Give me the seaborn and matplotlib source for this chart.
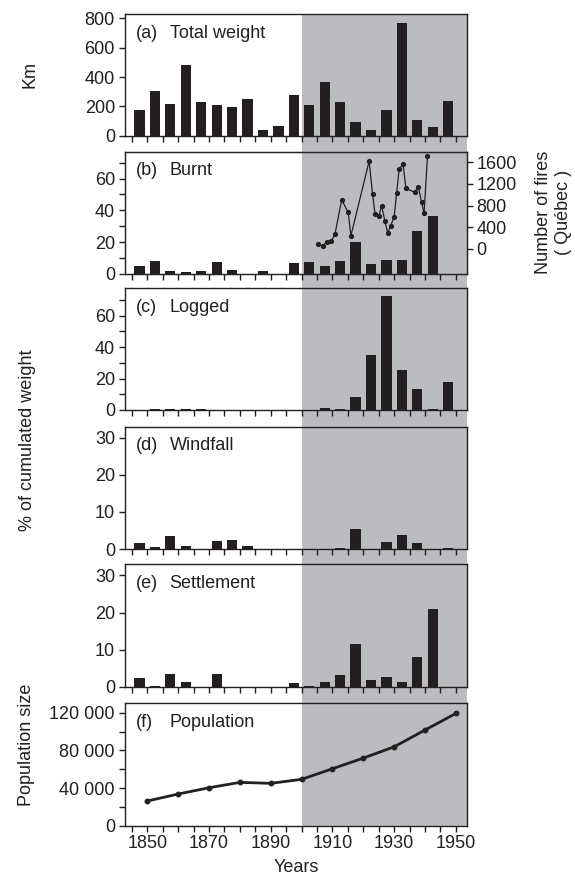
import matplotlib
matplotlib.use("Agg")
import matplotlib.pyplot as plt
import matplotlib.ticker as mticker
import matplotlib.transforms as mtransforms
from matplotlib.patches import Rectangle
import seaborn as sns
import numpy as np
import pandas as pd

# bar mid-points (5-year classes)
years = [1847.5 + 5 * i for i in range(21)]

total_weight = [176, 308, 217, 484, 231, 210, 199, 253, 39, 68, 279,
                210, 363, 231, 94, 39, 176, 770, 107, 57, 240]
burnt = [4.8, 8.0, 1.7, 1.1, 1.7, 7.4, 2.5, 0, 1.5, 0, 7.0,
         7.3, 4.8, 7.8, 20.0, 5.9, 8.4, 8.4, 27.0, 36.5, 0]
logged = [0, 0.8, 0.6, 0.4, 0.4, 0, 0, 0, 0, 0, 0,
          0.2, 1.0, 0.6, 8.1, 35.2, 72.8, 25.3, 13.6, 0.5, 17.6]
windfall = [1.6, 0.5, 3.6, 0.7, 0, 2.2, 2.4, 0.9, 0, 0, 0,
            0, 0, 0.4, 5.4, 0, 2.0, 3.8, 1.6, 0, 0.3]
settlement = [2.3, 0.2, 3.4, 1.3, 0, 3.4, 0, 0, 0, 0, 1.1,
              0.3, 1.2, 3.1, 11.5, 1.8, 2.7, 1.4, 7.9, 21.0, 0]

# number of fires (Québec), positions as drawn
fire_years = [1905.4, 1907.0, 1908.1, 1909.7, 1910.8, 1913.0, 1915.1, 1916.0,
              1921.9, 1923.0, 1923.8, 1925.1, 1925.9, 1927.0, 1927.9, 1928.9,
              1930.0, 1930.8, 1931.6, 1932.9, 1933.8, 1936.7, 1937.8, 1938.9,
              1939.7, 1940.8]
fires = [87, 55, 135, 153, 271, 905, 677, 246,
         1624, 1010, 646, 615, 800, 517, 301, 430,
         597, 1028, 1477, 1563, 1120, 1046, 1150, 862,
         659, 1722]

pop_years = [1850, 1860, 1870, 1880, 1890, 1900, 1910, 1920, 1930, 1940, 1950]
population = [26200, 33600, 40300, 46000, 45000, 49200, 60500, 71800, 83800,
              101600, 119300]

year_ticks = [1850, 1870, 1890, 1910, 1930, 1950]

panels = [("(a)", "Total weight", total_weight),
          ("(b)", "Burnt", burnt),
          ("(c)", "Logged", logged),
          ("(d)", "Windfall", windfall),
          ("(e)", "Settlement", settlement),
          ("(f)", "Population", None)]

sns.set_style("ticks")
plt.rcParams['font.family'] = ['Liberation Sans', 'DejaVu Sans']
plt.rcParams['font.size'] = 13

ink = "#231f20"
shade = "#bbbcbf"

W, H = 575, 880
fig = plt.figure(figsize=(W / 100, H / 100), dpi=100)

left, right = 124.7, 467
bounds = [(14, 135.7), (151.7, 273.7), (288.3, 410), (426.7, 549),
          (564.3, 686.7), (703.3, 825.7)]
ylims = [(0, 830), (0, 77), (0, 77.5), (0, 33), (0, 33), (0, 130000)]

axes = []
for (top, bot) in bounds:
    ax = fig.add_axes([left / W, 1 - bot / H, (right - left) / W, (bot - top) / H])
    ax.set_facecolor("none")
    axes.append(ax)

for i, (ax, (tag, name, vals)) in enumerate(zip(axes, panels)):
    if vals is not None:
        df = pd.DataFrame({"year": years, "value": vals})
        sns.barplot(data=df, x="year", y="value", ax=ax, native_scale=True,
                    color=ink, saturation=1, width=0.66, errorbar=None,
                    edgecolor="none")
    else:
        dp = pd.DataFrame({"year": pop_years, "pop": population})
        sns.lineplot(data=dp, x="year", y="pop", ax=ax, color=ink,
                     linewidth=2, marker="o", markersize=3.5,
                     markeredgecolor=ink)
    ax.set_xlim(1842.7, 1953.6)
    ax.set_ylim(*ylims[i])
    ax.set_xticks(year_ticks)
    ax.xaxis.set_minor_locator(mticker.MultipleLocator(5))
    ax.set_xlabel("")
    ax.set_ylabel("")
    ax.tick_params(which="both", direction="out", length=4, width=1,
                   color=ink, labelcolor=ink, pad=3)
    for s in ax.spines.values():
        s.set_visible(True)
        s.set_color(ink)
        s.set_linewidth(1)
    if i < 5:
        ax.tick_params(axis="x", labelbottom=False)
    ax.text(11 / (right - left), 1 - 19 / (bounds[i][1] - bounds[i][0]), tag,
            transform=ax.transAxes, ha="left", va="center", color=ink)
    ax.text(45 / (right - left), 1 - 19 / (bounds[i][1] - bounds[i][0]), name,
            transform=ax.transAxes, ha="left", va="center", color=ink)

axes[0].yaxis.set_major_locator(mticker.MultipleLocator(200))
for ax in axes[1:3]:
    ax.yaxis.set_major_locator(mticker.MultipleLocator(20))
    ax.yaxis.set_minor_locator(mticker.MultipleLocator(10))
for ax in axes[3:5]:
    ax.yaxis.set_major_locator(mticker.MultipleLocator(10))
axes[5].yaxis.set_major_locator(mticker.MultipleLocator(40000))
axes[5].yaxis.set_minor_locator(mticker.MultipleLocator(20000))
axes[5].yaxis.set_major_formatter(
    mticker.FuncFormatter(lambda v, p: f"{int(v):,}".replace(",", " ")))
axes[5].set_xlabel("Years", color=ink, labelpad=5)

# fires on the right axis of panel (b)
ax2 = axes[1].twinx()
df_f = pd.DataFrame({"year": fire_years, "fires": fires})
sns.lineplot(data=df_f, x="year", y="fires", ax=ax2, color=ink, linewidth=0.9,
             marker="o", markersize=3, markeredgecolor=ink)
ax2.set_ylim(-456, 1796)
ax2.set_yticks([0, 400, 800, 1200, 1600])
ax2.set_xlim(1842.7, 1953.6)
ax2.set_ylabel("Number of fires\n( Québec )", color=ink, labelpad=13)
ax2.set_xlabel("")
ax2.tick_params(axis="y", direction="out", length=4, width=1, color=ink,
                labelcolor=ink, pad=3)

# grey band from 1900 across all panels
tr = mtransforms.blended_transform_factory(axes[5].transData, fig.transFigure)
xr = axes[5].get_xlim()[1]
fig.add_artist(Rectangle((1900, 1 - 825.7 / H), xr - 1900, (825.7 - 14) / H,
                         transform=tr, facecolor=shade, edgecolor="none",
                         zorder=-1))

fig.text(30 / W, 1 - 75 / H, "Km", rotation=90, ha="center", va="center", color=ink)
fig.text(28 / W, 1 - 440 / H, "% of cumulated weight", rotation=90,
         ha="center", va="center", color=ink)
fig.text(27 / W, 1 - 745 / H, "Population size", rotation=90,
         ha="center", va="center", color=ink)

fig.savefig("out.png", dpi=100)
